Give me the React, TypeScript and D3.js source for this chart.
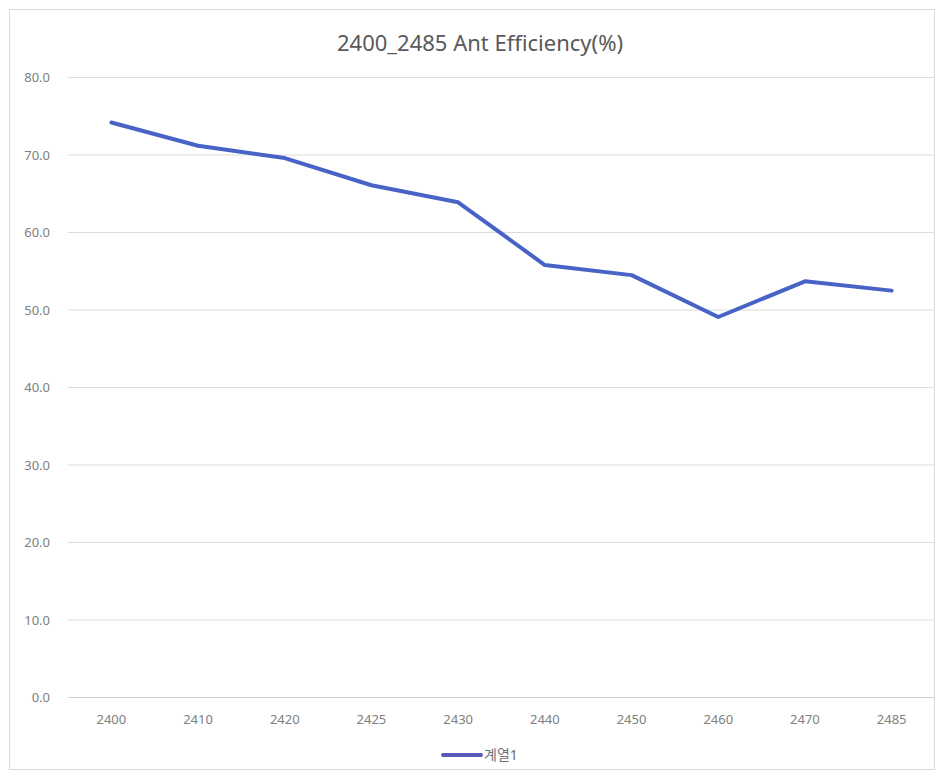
import React from "react";
import * as d3 from "d3";

const categories = ["2400", "2410", "2420", "2425", "2430", "2440", "2450", "2460", "2470", "2485"];
const efficiency = [74.2, 71.2, 69.6, 66.1, 63.9, 55.8, 54.5, 49.1, 53.7, 52.5];
const yTicks = [0, 10, 20, 30, 40, 50, 60, 70, 80];
const title = "2400_2485 Ant Efficiency(%)";
const seriesName = "계열1";

const W = 944;
const H = 773;
const plot = { left: 68, right: 935, top: 77.5, bottom: 697.5 };
const lineColor = "#4863c6";
const font = "'Noto Sans', 'Noto Sans CJK KR', sans-serif";

export default function App() {
  const x = d3.scaleBand<string>().domain(categories).range([plot.left, plot.right]);
  const y = d3.scaleLinear().domain([0, 80]).range([plot.bottom, plot.top]);
  const line = d3
    .line<number>()
    .x((_, i) => (x(categories[i]) ?? 0) + x.bandwidth() / 2)
    .y((d) => y(d));

  return (
    <svg
      width={W}
      height={H}
      style={{ position: "absolute", left: 0, top: 0, background: "#fff" }}
      fontFamily={font}
    >
      <rect x={9.5} y={9.5} width={W - 19} height={H - 13} fill="#fff" stroke="#d9d9d9" />
      <text x={480} y={51} textAnchor="middle" fontSize={22} fill="#595959">
        {title}
      </text>
      {yTicks.map((t) => (
        <g key={t}>
          <line x1={plot.left} x2={plot.right} y1={y(t)} y2={y(t)} stroke={t === 0 ? "#d0d0d0" : "#dcdcdc"} strokeWidth={1} />
          <text x={50} y={y(t)} dy="0.35em" textAnchor="end" fontSize={13} fill="#808080">
            {t.toFixed(1)}
          </text>
        </g>
      ))}
      {categories.map((c) => (
        <text key={c} x={(x(c) ?? 0) + x.bandwidth() / 2} y={719} dy="0.35em" textAnchor="middle" fontSize={13} fill="#808080">
          {c}
        </text>
      ))}
      <path d={line(efficiency) ?? ""} fill="none" stroke={lineColor} strokeWidth={4} strokeLinejoin="round" strokeLinecap="round" />
      <line x1={443} x2={481} y1={755} y2={755} stroke="#5559b8" strokeWidth={4} strokeLinecap="round" />
      <text x={484} y={755} dy="0.35em" fontSize={14} fill="#707070">
        {seriesName}
      </text>
    </svg>
  );
}
